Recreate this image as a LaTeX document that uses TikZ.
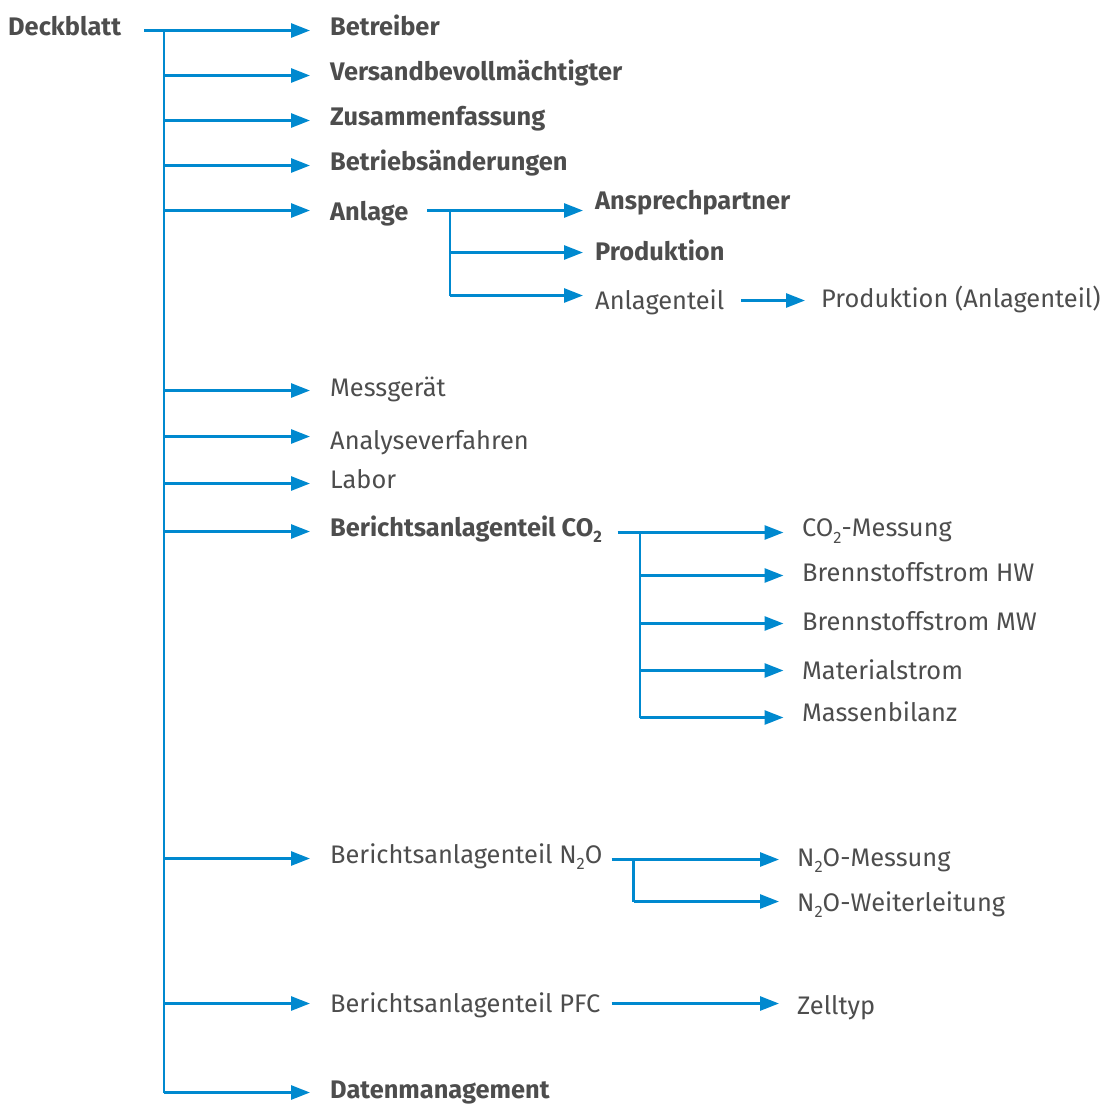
\documentclass[tikz,border=0pt]{standalone}
\usepackage{fontspec}
\setmainfont{Fira Sans}
\usetikzlibrary{arrows.meta}
\definecolor{ubablue}{RGB}{0,137,207}
\definecolor{ubagray}{RGB}{77,77,77}
\newcommand\tiefzwei{\raisebox{-6.5pt}{\fontsize{16.5}{16.5}\selectfont 2}}
\tikzset{
  lbl/.style={anchor=base west, inner sep=0pt, text=ubagray, font=\fontsize{25.4}{30}\selectfont},
  blbl/.style={lbl, font=\fontsize{25.4}{30}\selectfont\bfseries},
  conn/.style={draw=ubablue, line width=2.8pt},
  arr/.style={conn, -{Triangle[length=19pt,width=14pt]}, shorten >=#1},
  arr/.default=20pt
}

\begin{document}
\begin{tikzpicture}[x=1pt,y=1pt]
\useasboundingbox (0,0) rectangle (1101,-1104);
% Deckblatt und Hauptstamm
\node[blbl] (deck) at (8,-35) {Deckblatt};
\coordinate (start) at (144,-30.5);
\coordinate (t1)  at (164,-30.5);
\coordinate (t2)  at (164,-75.5);
\coordinate (t3)  at (164,-120.5);
\coordinate (t4)  at (164,-165.5);
\coordinate (t5)  at (164,-210.5);
\coordinate (t6)  at (164,-390.5);
\coordinate (t7)  at (164,-436.5);
\coordinate (t8)  at (164,-483.5);
\coordinate (t9)  at (164,-531.5);
\coordinate (t10) at (164,-858.5);
\coordinate (t11) at (164,-1003.5);
\coordinate (t12) at (164,-1092.5);
\node[blbl] (betreiber) at (330,-35)   {Betreiber};
\node[blbl] (versand)   at (330,-80)   {Versandbevollmächtigter};
\node[blbl] (zusammen)  at (330,-125)  {Zusammenfassung};
\node[blbl] (aenderung) at (330,-170)  {Betriebsänderungen};
\node[blbl] (anlage)    at (330,-220.7){Anlage};
\node[lbl]  (messgeraet) at (330,-396.5) {Messgerät};
\node[lbl]  (analyse)   at (330,-449)  {Analyseverfahren};
\node[lbl]  (labor)     at (330,-488.3){Labor};
\node[blbl] (co2)       at (330,-536)  {Berichtsanlagenteil CO\tiefzwei};
\node[lbl]  (n2o)       at (330,-863.3){Berichtsanlagenteil N\tiefzwei O};
\node[lbl]  (pfc)       at (330,-1012.5){Berichtsanlagenteil PFC};
\node[blbl] (daten)     at (330,-1098.3){Datenmanagement};
\draw[conn] (start) -- (t1) -- (t12);
\draw[arr] (t1)  -- (t1 -| betreiber.west);
\draw[arr] (t2)  -- (t2 -| versand.west);
\draw[arr] (t3)  -- (t3 -| zusammen.west);
\draw[arr] (t4)  -- (t4 -| aenderung.west);
\draw[arr] (t5)  -- (t5 -| anlage.west);
\draw[arr] (t6)  -- (t6 -| messgeraet.west);
\draw[arr] (t7)  -- (t7 -| analyse.west);
\draw[arr] (t8)  -- (t8 -| labor.west);
\draw[arr] (t9)  -- (t9 -| co2.west);
\draw[arr] (t10) -- (t10 -| n2o.west);
\draw[arr] (t11) -- (t11 -| pfc.west);
\draw[arr] (t12) -- (t12 -| daten.west);
% Anlage
\node[blbl] (ansprech) at (595,-209.3) {Ansprechpartner};
\node[blbl] (produktion) at (595,-260) {Produktion};
\node[lbl]  (anlagenteil) at (595,-309.5) {Anlagenteil};
\node[lbl]  (prodteil) at (821,-307) {Produktion (Anlagenteil)};
\coordinate (a0) at (427.3,-210.5);
\coordinate (a1) at (450,-210.5);
\coordinate (a2) at (450,-252.5);
\coordinate (a3) at (450,-295.5);
\coordinate (a4) at (741,-300.5);
\draw[conn] (a0) -- (a1) -- (a3);
\draw[arr=12pt] (a1) -- (a1 -| ansprech.west);
\draw[arr=12pt] (a2) -- (a2 -| produktion.west);
\draw[arr=12pt] (a3) -- (a3 -| anlagenteil.west);
\draw[arr=16pt] (a4) -- (a4 -| prodteil.west);
% CO2
\node[lbl] (co2mess) at (802,-536.5) {CO\tiefzwei-Messung};
\node[lbl] (brennhw) at (802,-581.5) {Brennstoffstrom HW};
\node[lbl] (brennmw) at (802,-630.5) {Brennstoffstrom MW};
\node[lbl] (material) at (802,-679) {Materialstrom};
\node[lbl] (massen) at (802,-721.5) {Massenbilanz};
\coordinate (c0) at (617.5,-532.5);
\coordinate (c1) at (640,-532.5);
\coordinate (c2) at (640,-575.5);
\coordinate (c3) at (640,-623.5);
\coordinate (c4) at (640,-670.5);
\coordinate (c5) at (640,-717.5);
\draw[conn] (c0) -- (c1) -- (c5);
\draw[arr=18.5pt] (c1) -- (c1 -| co2mess.west);
\draw[arr=18.5pt] (c2) -- (c2 -| brennhw.west);
\draw[arr=18.5pt] (c3) -- (c3 -| brennmw.west);
\draw[arr=18.5pt] (c4) -- (c4 -| material.west);
\draw[arr=18.5pt] (c5) -- (c5 -| massen.west);
% N2O und PFC
\node[lbl] (n2omess) at (797,-866) {N\tiefzwei O-Messung};
\node[lbl] (n2oweiter) at (797,-911) {N\tiefzwei O-Weiterleitung};
\node[lbl] (zelltyp) at (797,-1014.5) {Zelltyp};
\coordinate (n0) at (611.7,-859.5);
\coordinate (n1) at (633.5,-859.5);
\coordinate (n2) at (633.5,-901.5);
\coordinate (p0) at (611.7,-1003.5);
\draw[conn] (n0) -- (n1) -- (n2);
\draw[arr=18pt] (n1) -- (n1 -| n2omess.west);
\draw[arr=18pt] (n2) -- (n2 -| n2oweiter.west);
\draw[arr=18pt] (p0) -- (p0 -| zelltyp.west);
\end{tikzpicture}
\end{document}
